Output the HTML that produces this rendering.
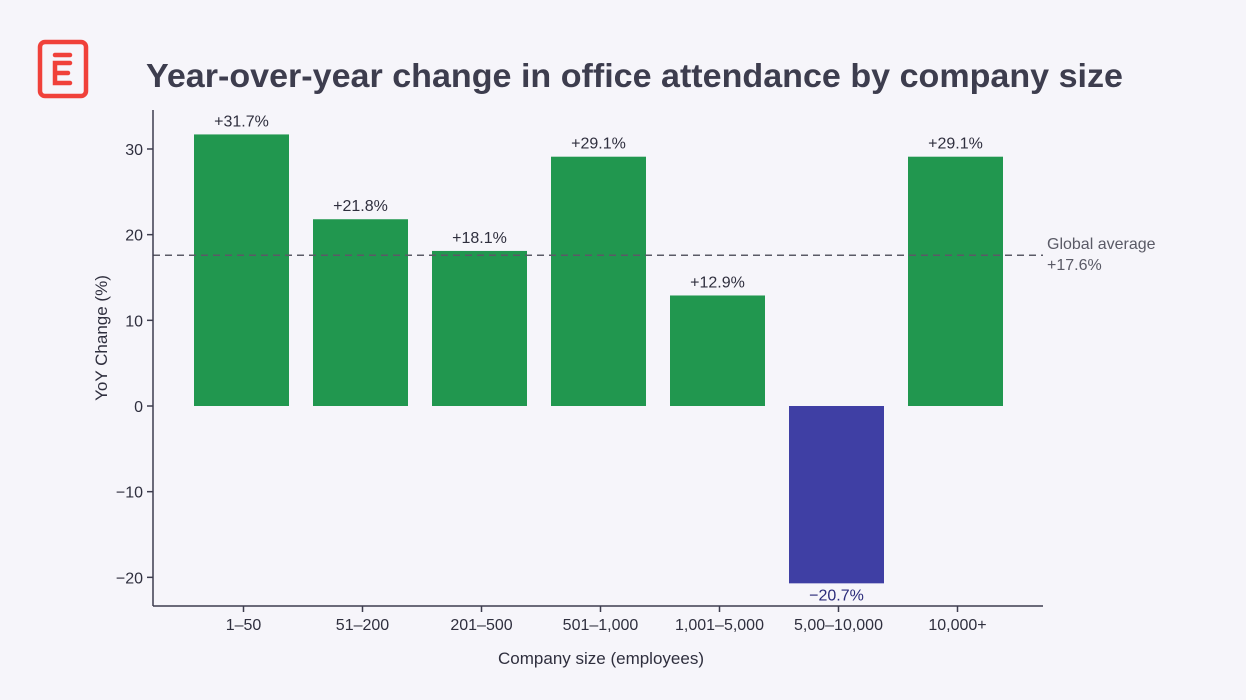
<!DOCTYPE html>
<html><head><meta charset="utf-8"><style>
body{margin:0;background:#f6f5fa;font-family:"Liberation Sans",sans-serif;}
svg{display:block}
</style></head><body>
<svg width="1246" height="700" viewBox="0 0 1246 700">
<rect width="1246" height="700" fill="#f6f5fa"/>
<g fill="none" stroke="#f0413a" stroke-width="4.5" stroke-linecap="round">
<rect x="40" y="42" width="46" height="54" rx="5"/>
<line x1="55" y1="55" x2="70" y2="55"/>
<path d="M70 63 H55 V83 H70 M55 73 H68"/>
</g>
<text x="146" y="87" font-size="33" font-weight="bold" fill="#3d3d4e" textLength="977" lengthAdjust="spacingAndGlyphs">Year-over-year change in office attendance by company size</text>
<g id="plot"></g>
</svg>
<script>
const categories=["1–50","51–200","201–500","501–1,000","1,001–5,000","5,00–10,000","10,000+"];
const values=[31.7,21.8,18.1,29.1,12.9,-20.7,29.1];
const valueLabels=["+31.7%","+21.8%","+18.1%","+29.1%","+12.9%","−20.7%","+29.1%"];
const yTicks=[-20,-10,0,10,20,30];
const yTickLabels=["−20","−10","0","10","20","30"];
const globalAvg=17.6;
const NS="http://www.w3.org/2000/svg";
const g=document.getElementById('plot');
function y(v){return 406-v*8.567;}
function xc(i){return 241.5+119*i;}
function mk(t,a,txt){const e=document.createElementNS(NS,t);for(const k in a)e.setAttribute(k,a[k]);if(txt!==undefined)e.textContent=txt;g.appendChild(e);return e;}
values.forEach((v,i)=>{
 const b=mk('rect',{x:xc(i)-47.5,y:Math.min(y(v),y(0)),width:95,height:Math.abs(y(v)-y(0)),fill:v>=0?'#21974f':'#3f3fa4'});
 
 
 const t=mk('text',{x:xc(i),y:v>=0?y(v)-8:y(v)+17,'text-anchor':'middle','font-size':16,fill:v>=0?'#2f2f3e':'#2b2b7a'},valueLabels[i]);
 
 
 const tk=mk('line',{x1:xc(i)+2,x2:xc(i)+2,y1:606,y2:612,stroke:'#3d3d4e','stroke-width':1.5});
 
 
 const tl=mk('text',{x:xc(i)+2,y:630,'text-anchor':'middle','font-size':16,fill:'#2f2f3e'},categories[i]);
 
 
});
yTicks.forEach((v,i)=>{
 const tk=mk('line',{x1:147,x2:153,y1:y(v),y2:y(v),stroke:'#3d3d4e','stroke-width':1.5});
 
 
 const tl=mk('text',{x:143,y:y(v)+6,'text-anchor':'end','font-size':16,fill:'#2f2f3e'},yTickLabels[i]);
 
 
});
const avg=mk('line',{x1:153,x2:1043,y1:y(globalAvg),y2:y(globalAvg),stroke:'#5a5a66','stroke-width':1.5,'stroke-dasharray':'7,5'});


const al=mk('text',{x:1047,y:y(globalAvg)-6,'font-size':16,fill:'#5a5a66'},'Global average');


const av=mk('text',{x:1047,y:y(globalAvg)+15,'font-size':16,fill:'#5a5a66'},'+'+globalAvg+'%');


const ya=mk('line',{x1:153,x2:153,y1:110,y2:606,stroke:'#3d3d4e','stroke-width':1.5});


const xa=mk('line',{x1:153,x2:1043,y1:606,y2:606,stroke:'#3d3d4e','stroke-width':1.5});


const xt=mk('text',{x:601,y:664,'text-anchor':'middle','font-size':17,fill:'#2f2f3e'},'Company size (employees)');


const yt=mk('text',{x:0,y:0,'text-anchor':'middle','font-size':17,fill:'#2f2f3e',transform:'translate(107,338) rotate(-90)'},'YoY Change (%)');


</script>
</body></html>
